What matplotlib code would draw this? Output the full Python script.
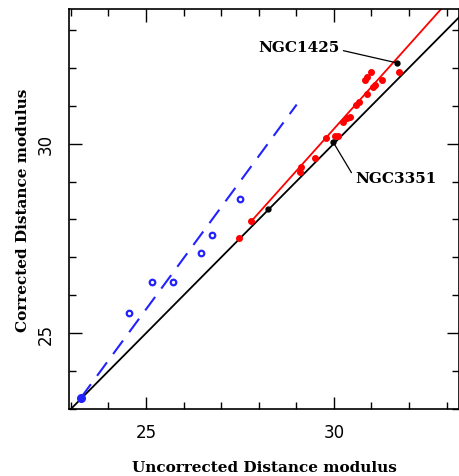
import matplotlib
matplotlib.use("Agg")
import matplotlib.pyplot as plt
from matplotlib.ticker import MultipleLocator, FixedLocator

# ---- data ----
blue_x = [24.56, 25.15, 25.73, 26.46, 26.75, 27.50]
blue_y = [25.54, 26.34, 26.34, 27.11, 27.59, 28.53]
blue_fill_x = [23.26]
blue_fill_y = [23.29]

red_x = [27.47, 27.79, 29.10, 29.12, 29.49, 29.80, 30.03, 30.11, 30.25, 30.34,
         30.43, 30.60, 30.67, 30.87, 30.87, 30.84, 31.00, 31.05, 31.09, 31.29, 31.73]
red_y = [27.50, 27.97, 29.25, 29.39, 29.61, 30.15, 30.20, 30.19, 30.57, 30.68,
         30.70, 31.01, 31.11, 31.32, 31.76, 31.69, 31.89, 31.49, 31.54, 31.67, 31.90]

black_x = [28.25, 29.98, 31.67]
black_y = [28.27, 30.04, 32.13]

one_to_one = [23.0, 33.6]
red_fit_x = [27.80, 32.90]
red_fit_y = [27.95, 33.60]
blue_fit_x = [23.27, 29.01]
blue_fit_y = [23.30, 31.03]

labels = ["NGC1425", "NGC3351"]
label_targets = [(31.67, 32.13), (29.98, 30.04)]
label_pos = [(27.98, 32.55), (30.56, 29.08)]
label_ha = ["left", "left"]
label_relpos = [(1.0, 0.3), (0.0, 0.5)]

xlim = (22.95, 33.33)
ylim = (23.0, 33.55)
major_ticks = [25, 30]

# ---- figure ----
fig = plt.figure(figsize=(4.59, 4.77), dpi=100)
ax = fig.add_axes([69/459, 67/477, 390/459, 400/477])

ax.plot(one_to_one, one_to_one, color="black", lw=1.3, zorder=2)
ax.plot(red_fit_x, red_fit_y, color="red", lw=1.3, zorder=2)
ax.plot(blue_fit_x, blue_fit_y, color="#2222ff", lw=1.5, dashes=(8, 5), zorder=2)

ax.plot(blue_x, blue_y, "o", ms=4, mfc="none", mec="#2222ff", mew=1.6, zorder=3)
ax.plot(blue_fill_x, blue_fill_y, "o", ms=5.5, color="#2222ff", zorder=3)
ax.plot(red_x, red_y, "o", ms=4, color="red", mec="red", zorder=3)
ax.plot(black_x, black_y, "o", ms=3.5, color="black", zorder=4)

for lab, tgt, pos, ha, rp in zip(labels, label_targets, label_pos, label_ha, label_relpos):
    ax.annotate(lab, xy=tgt, xytext=pos, textcoords="data",
                fontsize=11, fontweight="bold", family="DejaVu Serif",
                ha=ha, va="center",
                arrowprops=dict(arrowstyle="-", color="black", lw=0.9,
                                relpos=rp, shrinkA=1, shrinkB=0))

ax.set_xlim(*xlim)
ax.set_ylim(*ylim)
ax.xaxis.set_major_locator(FixedLocator(major_ticks))
ax.yaxis.set_major_locator(FixedLocator(major_ticks))
ax.xaxis.set_minor_locator(MultipleLocator(1))
ax.yaxis.set_minor_locator(MultipleLocator(1))
ax.tick_params(which="both", direction="in", top=True, right=True, width=1.0)
ax.tick_params(which="major", length=9, labelsize=12, pad=10)
ax.tick_params(which="minor", length=5)
for lab in ax.get_yticklabels():
    lab.set_rotation(90)
    lab.set_va("center")
for sp in ax.spines.values():
    sp.set_linewidth(1.2)

ax.set_xlabel("Uncorrected Distance modulus", fontsize=11, fontweight="bold",
              family="DejaVu Serif", labelpad=14)
ax.set_ylabel("Corrected Distance modulus", fontsize=11, fontweight="bold",
              family="DejaVu Serif", labelpad=5)

fig.savefig("out.png", dpi=100)
